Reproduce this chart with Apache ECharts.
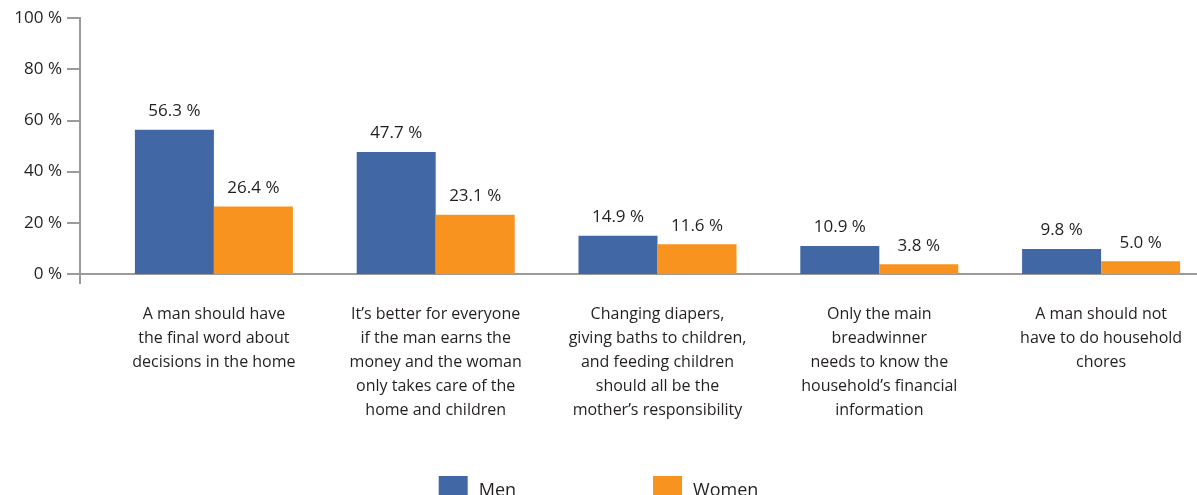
<!DOCTYPE html>
<html>
<head>
<meta charset="utf-8">
<script src="https://cdn.jsdelivr.net/npm/echarts@6/dist/echarts.min.js"></script>
<style>
  html, body { margin: 0; padding: 0; background: #fff; }
  #chart { width: 1197px; height: 495px; }
</style>
</head>
<body>
<div id="chart"></div>
<script>
// Attitudes on gender roles: share agreeing, by respondent sex
const categories = [
  'A man should have\nthe final word about\ndecisions in the home',
  'It\u2019s better for everyone\nif the man earns the\nmoney and the woman\nonly takes care of the\nhome and children',
  'Changing diapers,\ngiving baths to children,\nand feeding children\nshould all be the\nmother\u2019s responsibility',
  'Only the main\nbreadwinner\nneeds to know the\nhousehold\u2019s financial\ninformation',
  'A man should not\nhave to do household\nchores'
];
const menValues = [56.3, 47.7, 14.9, 10.9, 9.8];
const womenValues = [26.4, 23.1, 11.6, 3.8, 5.0];
const yTicks = [0, 20, 40, 60, 80, 100];

const FONT = '"Open Sans", "Noto Sans", sans-serif';
const TEXT = '#231f20';
const AXIS = '#9b9b9b';
const BLUE = '#4267a5';
const ORANGE = '#f7931e';

const chart = echarts.init(document.getElementById('chart'), null, { renderer: 'canvas' });

const valueLabel = {
  show: true,
  position: 'top',
  distance: 10,
  color: TEXT,
  fontFamily: FONT,
  fontSize: 17,
  fontWeight: 500,
  formatter: p => p.value.toFixed(1) + ' %'
};

const gridLeft = 103, axisOffset = 23, tickLen = 13;

chart.setOption({
  animation: false,
  textStyle: { fontFamily: FONT },
  grid: {
    left: gridLeft, top: 18, bottom: 221, width: 1109,
    containLabel: false, outerBoundsMode: 'none'
  },
  legend: {
    data: ['Men', 'Women'],
    left: 'center',
    top: 471,
    itemWidth: 29,
    itemHeight: 29,
    itemGap: 137,
    icon: 'rect',
    textStyle: { color: TEXT, fontFamily: FONT, fontSize: 18, padding: [0, 0, 0, 6] }
  },
  xAxis: {
    type: 'category',
    data: categories,
    axisLine: { lineStyle: { color: AXIS, width: 2 } },
    axisTick: { show: false },
    axisLabel: {
      interval: 0,
      margin: 28,
      color: TEXT,
      fontFamily: FONT,
      fontSize: 16,
      lineHeight: 24,
      align: 'center'
    }
  },
  yAxis: {
    type: 'value',
    min: yTicks[0],
    max: yTicks[yTicks.length - 1],
    interval: yTicks[1] - yTicks[0],
    offset: axisOffset,
    axisLine: { show: true, lineStyle: { color: AXIS, width: 2 } },
    axisTick: { show: true, inside: false, length: tickLen, lineStyle: { color: AXIS, width: 2 } },
    splitLine: { show: false },
    axisLabel: { margin: tickLen + 5, color: TEXT, fontFamily: FONT, fontSize: 17, fontWeight: 500, formatter: '{value} %' }
  },
  series: [
    {
      name: 'Men', type: 'bar', data: menValues, barWidth: 79, barGap: '0%',
      itemStyle: { color: BLUE }, label: valueLabel
    },
    {
      name: 'Women', type: 'bar', data: womenValues, barWidth: 79, barGap: '0%',
      itemStyle: { color: ORANGE }, label: valueLabel
    }
  ]
});

// Axis-line extensions: the baseline runs left to the tick end and the
// vertical axis continues a little below the baseline.
const zeroY = chart.convertToPixel({ yAxisIndex: 0 }, 0);
const topY = chart.convertToPixel({ yAxisIndex: 0 }, 100);
const axisX = gridLeft - axisOffset;
chart.setOption({
  graphic: [
    { type: 'line', shape: { x1: axisX - tickLen, y1: zeroY, x2: gridLeft, y2: zeroY },
      style: { stroke: AXIS, lineWidth: 2 }, z: 10 },
    { type: 'line', shape: { x1: axisX, y1: topY - 1, x2: axisX, y2: zeroY + 10 },
      style: { stroke: AXIS, lineWidth: 2 }, z: 10 }
  ]
});
</script>
</body>
</html>
